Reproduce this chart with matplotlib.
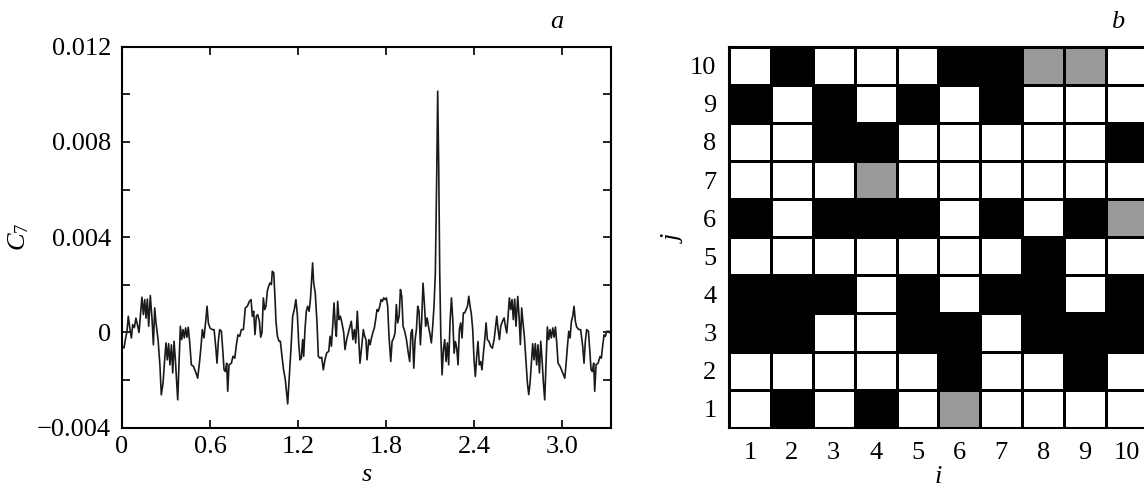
import numpy as np
import matplotlib
matplotlib.use('Agg')
import matplotlib.pyplot as plt
from matplotlib.colors import ListedColormap

plt.rcParams['font.family'] = 'Liberation Serif'
plt.rcParams['mathtext.fontset'] = 'custom'
plt.rcParams['mathtext.rm'] = 'Liberation Serif'
plt.rcParams['mathtext.it'] = 'Liberation Serif:italic'
plt.rcParams['font.size'] = 19

# correlation C7 vs s, values of C7 in units of 1e-3
s = [0.000, 0.014, 0.023, 0.034, 0.043, 0.055, 0.064, 0.073, 0.084, 0.095,
     0.105, 0.116, 0.127, 0.136, 0.146, 0.155, 0.164, 0.173, 0.182, 0.193,
     0.205, 0.214, 0.223, 0.232, 0.246, 0.259, 0.268, 0.280, 0.291, 0.300,
     0.309, 0.318, 0.327, 0.337, 0.346, 0.355, 0.364, 0.373, 0.380, 0.389,
     0.398, 0.407, 0.416, 0.425, 0.434, 0.443, 0.452, 0.462, 0.473, 0.487,
     0.496, 0.505, 0.516, 0.528, 0.539, 0.548, 0.559, 0.571, 0.580, 0.589,
     0.600, 0.614, 0.628, 0.639, 0.648, 0.657, 0.666, 0.678, 0.687, 0.696,
     0.705, 0.714, 0.721, 0.730, 0.746, 0.757, 0.769, 0.780, 0.791, 0.803,
     0.814, 0.828, 0.841, 0.855, 0.869, 0.880, 0.889, 0.898, 0.907, 0.916,
     0.925, 0.937, 0.946, 0.955, 0.964, 0.973, 0.982, 0.991, 1.000, 1.009,
     1.019, 1.025, 1.035, 1.044, 1.050, 1.060, 1.071, 1.080, 1.091, 1.102,
     1.114, 1.130, 1.141, 1.152, 1.164, 1.175, 1.186, 1.196, 1.205, 1.214,
     1.223, 1.232, 1.239, 1.248, 1.257, 1.266, 1.276, 1.285, 1.294, 1.300,
     1.307, 1.318, 1.330, 1.339, 1.350, 1.362, 1.373, 1.384, 1.396, 1.410,
     1.419, 1.428, 1.437, 1.446, 1.455, 1.462, 1.471, 1.480, 1.489, 1.500,
     1.512, 1.521, 1.532, 1.544, 1.555, 1.564, 1.575, 1.585, 1.594, 1.605,
     1.614, 1.623, 1.635, 1.646, 1.655, 1.664, 1.671, 1.683, 1.692, 1.699,
     1.710, 1.721, 1.730, 1.739, 1.748, 1.758, 1.767, 1.776, 1.785, 1.794,
     1.803, 1.812, 1.821, 1.833, 1.842, 1.853, 1.862, 1.871, 1.880, 1.890,
     1.899, 1.908, 1.917, 1.928, 1.940, 1.951, 1.962, 1.971, 1.980, 1.990,
     1.999, 2.008, 2.017, 2.026, 2.035, 2.044, 2.053, 2.062, 2.071, 2.081,
     2.090, 2.099, 2.110, 2.119, 2.128, 2.137, 2.146, 2.153, 2.160, 2.167,
     2.174, 2.183, 2.192, 2.201, 2.210, 2.219, 2.228, 2.237, 2.247, 2.256,
     2.265, 2.274, 2.283, 2.292, 2.301, 2.310, 2.319, 2.328, 2.337, 2.347,
     2.356, 2.365, 2.374, 2.383, 2.392, 2.401, 2.410, 2.419, 2.428, 2.437,
     2.446, 2.455, 2.465, 2.474, 2.483, 2.492, 2.503, 2.515, 2.526, 2.538,
     2.547, 2.556, 2.565, 2.574, 2.583, 2.595, 2.606, 2.615, 2.624, 2.633,
     2.642, 2.651, 2.660, 2.669, 2.678, 2.687, 2.699, 2.708, 2.717, 2.726,
     2.735, 2.744, 2.756, 2.765, 2.774, 2.783, 2.792, 2.801, 2.810, 2.819,
     2.828, 2.837, 2.847, 2.856, 2.865, 2.874, 2.883, 2.892, 2.901, 2.910,
     2.919, 2.928, 2.938, 2.947, 2.956, 2.965, 2.974, 2.988, 2.997, 3.006,
     3.020, 3.029, 3.038, 3.047, 3.056, 3.065, 3.074, 3.083, 3.092, 3.101,
     3.115, 3.128, 3.142, 3.151, 3.160, 3.169, 3.181, 3.190, 3.199, 3.208,
     3.217, 3.224, 3.233, 3.247, 3.260, 3.269, 3.279, 3.288, 3.297, 3.306,
     3.320, 3.329]
c7 = [-0.58, -0.65, -0.30, 0.05, 0.68, 0.10, -0.23, 0.33, 0.20, 0.60,
      0.33, 0.00, 0.82, 1.48, 0.75, 1.38, 0.60, 1.40, 0.26, 1.55,
      0.54, -0.52, 1.03, 0.40, -0.30, -1.42, -2.62, -2.12, -1.15, -0.44,
      -1.15, -0.47, -1.36, -0.52, -1.70, -0.37, -1.15, -2.12, -2.83, -1.29,
      0.26, -0.30, 0.12, -0.23, 0.19, -0.20, 0.22, -0.44, -1.36, -1.42,
      -1.57, -1.70, -1.92, -1.29, -0.58, 0.12, -0.23, 0.47, 1.10, 0.40,
      0.19, 0.12, 0.12, -0.58, -1.29, -0.37, 0.12, 0.05, -0.72, -1.57,
      -1.64, -1.29, -2.47, -1.36, -1.29, -1.00, -1.08, -0.52, -0.10, -0.16,
      0.12, 0.12, 1.03, 1.10, 1.31, 1.38, 0.68, 0.89, -0.09, 0.68,
      0.75, 0.47, -0.20, 0.00, 1.45, 0.96, 1.10, 1.73, 1.94, 2.08,
      2.01, 2.57, 2.50, 1.38, 0.47, -0.16, -0.37, -0.37, -1.00, -1.57,
      -1.99, -3.00, -1.85, -0.72, 0.68, 0.96, 1.38, 0.75, -0.44, -1.15,
      -1.08, -0.30, -1.00, 0.12, 0.89, 1.10, 0.89, 1.38, 2.29, 2.92,
      2.08, 1.66, 0.40, -1.00, -1.08, -1.04, -1.57, -1.15, -0.86, -0.79,
      -0.16, -0.58, 0.26, 1.24, 0.26, -0.16, 1.31, 0.54, 0.68, 0.40,
      0.00, -0.72, -0.30, 0.00, 0.26, 0.47, -0.30, 0.12, -0.44, 0.89,
      -0.16, -1.29, -0.58, 0.12, -0.16, -0.30, -1.15, -0.30, -0.52, -0.30,
      -0.02, 0.19, 0.54, 0.96, 0.89, 1.10, 1.38, 1.31, 1.45, 1.38,
      1.45, 1.10, -0.16, -1.22, -0.38, -0.23, -0.02, 1.17, 0.40, 0.68,
      1.80, 1.52, 0.26, 0.05, -0.30, -0.80, -1.22, -0.02, 0.12, -1.50,
      -0.30, 0.12, 1.10, 0.89, -0.52, 0.54, 2.07, 1.24, 0.26, 0.61,
      0.26, -0.02, -0.44, 0.26, 1.10, 2.50, 6.42, 10.13, 6.98, 2.50,
      -0.02, -1.78, -0.72, -0.30, -1.22, -0.44, -1.36, 0.40, 1.45, 0.54,
      -0.87, -0.38, -0.66, -1.36, 0.12, 0.40, -0.23, 0.82, 0.82, 0.96,
      1.10, 1.52, 1.10, 0.75, 0.12, -1.15, -1.85, -1.01, -0.38, -1.36,
      -1.22, -1.57, -0.87, -0.30, 0.40, -0.30, -0.38, -0.59, -0.66, -0.30,
      0.19, 0.68, 0.12, -0.30, 0.26, 0.47, 0.61, 0.26, -0.02, 0.68,
      1.45, 0.96, 1.38, 0.54, 1.40, 0.26, 1.51, 0.68, -0.51, 1.03,
      0.40, -0.16, -1.29, -2.12, -2.61, -2.12, -1.29, -0.47, -1.15, -0.47,
      -1.36, -0.52, -1.70, -0.37, -1.15, -2.12, -2.83, -1.29, 0.23, -0.30,
      0.12, -0.23, 0.19, -0.20, 0.23, -0.44, -1.29, -1.43, -1.57, -1.70,
      -1.92, -1.29, -0.58, 0.05, -0.23, 0.47, 0.68, 1.10, 0.47, 0.23,
      0.12, 0.12, -0.58, -1.29, -0.37, 0.12, 0.05, -0.72, -1.57, -1.64,
      -1.29, -2.47, -1.36, -1.29, -1.01, -1.08, -0.52, -0.10, -0.16, 0.05,
      0.05, -0.02]

# lattice state: 0 = empty, 1 = grey, 2 = black; rows listed from j = 1 up to j = 10
cells = [
    [0, 2, 0, 2, 0, 1, 0, 0, 0, 0],
    [0, 0, 0, 0, 0, 2, 0, 0, 2, 0],
    [2, 2, 0, 0, 2, 2, 0, 2, 2, 2],
    [2, 2, 2, 0, 2, 0, 2, 2, 0, 2],
    [0, 0, 0, 0, 0, 0, 0, 2, 0, 0],
    [2, 0, 2, 2, 2, 0, 2, 0, 2, 1],
    [0, 0, 0, 1, 0, 0, 0, 0, 0, 0],
    [0, 0, 2, 2, 0, 0, 0, 0, 0, 2],
    [2, 0, 2, 0, 2, 0, 2, 0, 0, 0],
    [0, 2, 0, 0, 0, 2, 2, 1, 1, 0],
]
idx = [1, 2, 3, 4, 5, 6, 7, 8, 9, 10]

fig = plt.figure(figsize=(11.44, 4.88), dpi=100)

# panel a
ax = fig.add_axes([122 / 1144, 60.3 / 488, 488.7 / 1144, 381 / 488])
ax.plot(s, np.array(c7) * 1e-3, color='#1a1a1a', lw=1.2)
ax.set_xlim(0, 3.333)
ax.set_ylim(-0.004, 0.012)
ax.set_xticks([0, 0.6, 1.2, 1.8, 2.4, 3.0])
ax.set_xticklabels(['0', '0.6', '1.2', '1.8', '2.4', '3.0'])
yt = [-0.004, -0.002, 0, 0.002, 0.004, 0.006, 0.008, 0.010, 0.012]
ax.set_yticks(yt)
ax.set_yticklabels(['\u22120.004', '', '0', '', '0.004', '', '0.008', '', '0.012'])
ax.tick_params(direction='in', length=6, width=1.2, top=True, right=True)
ax.tick_params(axis='x', pad=6)
ax.tick_params(axis='y', pad=8)
for sp in ax.spines.values():
    sp.set_linewidth(1.5)
ax.set_xlabel('$s$', labelpad=4)
ax.set_ylabel(r'$C_{\mathrm{7}}$', labelpad=4)

# panel b
ax2 = fig.add_axes([729 / 1144, 60.3 / 488, 419 / 1144, 381 / 488])
cmap = ListedColormap(['white', '#999999', 'black'])
edges = np.arange(0.5, 11.5, 1.0)
ax2.pcolormesh(edges, edges, np.array(cells), cmap=cmap, vmin=0, vmax=2,
               edgecolors='k', linewidth=1.0)
ax2.set_xlim(0.5, 10.5)
ax2.set_ylim(0.5, 10.5)
ax2.set_xticks(idx)
ax2.set_yticks(idx)
ax2.tick_params(length=0)
ax2.tick_params(axis='x', pad=10)
ax2.tick_params(axis='y', pad=9)
for sp in ax2.spines.values():
    sp.set_linewidth(1.5)
ax2.set_xlabel('$i$', labelpad=2)
ax2.set_ylabel('$j$', labelpad=4)

fig.text(557 / 1144, 1 - 22 / 488, '$a$', ha='center', va='center')
fig.text(1118 / 1144, 1 - 22 / 488, '$b$', ha='center', va='center')

fig.savefig('out.png', dpi=100)
